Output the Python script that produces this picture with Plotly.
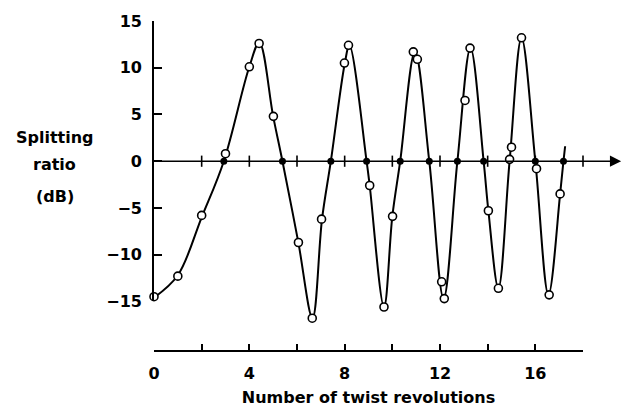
import plotly.graph_objects as go

# Measured data points (hollow circles)
meas_x = [0, 1.0, 2.0, 3.0, 4.0, 4.41, 5.01, 6.06, 6.64, 7.03, 7.99, 8.16, 9.05, 9.65,
          10.01, 10.88, 11.05, 12.07, 12.18, 13.05, 13.26, 14.03, 14.45, 14.92, 15.0,
          15.42, 16.05, 16.58, 17.04]
meas_y = [-14.5, -12.3, -5.8, 0.8, 10.1, 12.6, 4.8, -8.7, -16.8, -6.2, 10.5, 12.4, -2.6, -15.6,
          -5.9, 11.7, 10.9, -12.9, -14.7, 6.5, 12.1, -5.3, -13.6, 0.2, 1.5,
          13.2, -0.8, -14.3, -3.5]

# Zero crossings (solid dots)
zero_x = [2.93, 5.39, 7.42, 8.92, 10.33, 11.55, 12.73, 13.83, 16.0, 17.18]
zero_y = [0] * len(zero_x)

# Smooth curve nodes
curve_x = [0, 1.0, 2.0, 2.93, 4.0, 4.42, 5.0, 5.39, 6.05, 6.65, 7.05, 7.42,
           8.0, 8.2, 8.92, 9.05, 9.65, 10.0, 10.33, 10.95, 11.55, 12.15, 12.73,
           13.28, 13.83, 14.03, 14.45, 14.92, 15.42, 16.0, 16.55, 17.04, 17.18, 17.25]
curve_y = [-14.6, -12.2, -6.0, 0, 10.1, 12.7, 4.8, 0, -8.6, -16.8, -6.2, 0,
           10.4, 12.4, 0, -2.6, -15.6, -5.9, 0, 11.7, 0, -14.7, 0,
           12.1, 0, -5.3, -13.6, 0, 13.2, 0, -14.3, -3.5, 0, 1.6]

# Tick marks on the zero line
zero_ticks = [2, 4, 6, 8, 10, 12, 14, 16, 18]

# Axis ticks / labels
x_tickvals = [0, 2, 4, 6, 8, 10, 12, 14, 16, 18]
x_ticktext = ["0", "", "4", "", "8", "", "12", "", "16", ""]
y_tickvals = [-15, -10, -5, 0, 5, 10, 15]
y_ticktext = ["\u221215", "\u221210", "\u22125", "0", "5", "10", "15"]

FONT = dict(family="DejaVu Sans", size=16, color="black", weight="bold")

Y_LO, Y_HI = -20.2, 15

fig = go.Figure()
fig.add_trace(go.Scatter(x=curve_x, y=curve_y, mode="lines",
                         line=dict(color="black", width=2, shape="spline", smoothing=1.0),
                         hoverinfo="skip", showlegend=False))
fig.add_trace(go.Scatter(x=zero_ticks, y=[0] * len(zero_ticks), mode="markers",
                         marker=dict(symbol="line-ns", size=8, line=dict(color="black", width=1.6)),
                         showlegend=False, cliponaxis=False))
fig.add_trace(go.Scatter(x=zero_x, y=zero_y, mode="markers",
                         marker=dict(symbol="circle", size=7, color="black"),
                         showlegend=False, cliponaxis=False))
fig.add_trace(go.Scatter(x=meas_x, y=meas_y, mode="markers",
                         marker=dict(symbol="circle", size=8, color="white",
                                     line=dict(color="black", width=1.6)),
                         showlegend=False, cliponaxis=False))
# empty trace to activate the labelled y axis
fig.add_trace(go.Scatter(x=[], y=[], xaxis="x", yaxis="y2", showlegend=False))

fig.update_layout(
    width=628, height=416,
    margin=dict(l=154, r=45, t=20, b=58),
    paper_bgcolor="white", plot_bgcolor="rgba(0,0,0,0)",
    font=FONT,
    xaxis=dict(range=[0, 18], showline=True, linecolor="black", linewidth=1.6,
               ticks="inside", ticklen=6, tickwidth=1.6, tickcolor="black",
               tickmode="array", tickvals=x_tickvals, ticktext=x_ticktext,
               showgrid=False, zeroline=False, ticklabelstandoff=8,
               title=dict(text="Number of twist revolutions", font=FONT, standoff=10)),
    yaxis=dict(range=[Y_LO, Y_HI], showline=False, showticklabels=False, ticks="",
               showgrid=False, zeroline=False),
    yaxis2=dict(range=[-15, 15], domain=[(-15 - Y_LO) / (Y_HI - Y_LO), 1], anchor="x",
                showline=True, linecolor="black", linewidth=1.6,
                ticks="inside", ticklen=8, tickwidth=1.6, tickcolor="black",
                tickmode="array", tickvals=y_tickvals, ticktext=y_ticktext,
                showgrid=False, zeroline=False, ticklabelstandoff=7),
    annotations=[
        dict(x=19.6, y=0, xref="x", yref="y", ax=0, ay=0, axref="x", ayref="y",
             text="", showarrow=True, arrowhead=2, arrowsize=1.4, arrowwidth=1.6,
             arrowcolor="black", standoff=0, startstandoff=0),
        dict(x=-0.2308, y=2.5, xref="paper", yref="y", text="Splitting", showarrow=False,
             xanchor="center", yanchor="middle", font=FONT),
        dict(x=-0.2308, y=-0.3, xref="paper", yref="y", text="ratio", showarrow=False,
             xanchor="center", yanchor="middle", font=FONT),
        dict(x=-0.2308, y=-3.8, xref="paper", yref="y", text="(dB)", showarrow=False,
             xanchor="center", yanchor="middle", font=FONT),
    ],
)

fig.write_html("out.html", config={"displayModeBar": False},
               post_script="document.body.style.margin='0';document.body.style.overflow='hidden';")
